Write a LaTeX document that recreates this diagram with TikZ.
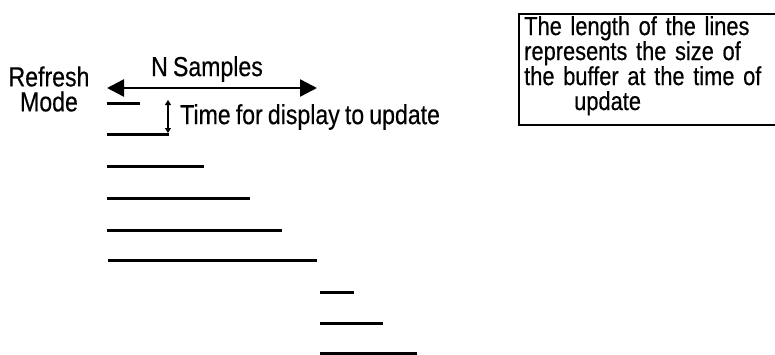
\documentclass[tikz,border=0pt]{standalone}
\usepackage{fontspec}
\setmainfont[FakeStretch=0.84,WordSpace=0.8,FakeBold=0.4]{Liberation Sans}
\usetikzlibrary{arrows.meta}
\begin{document}
\begin{tikzpicture}[x=1pt,y=-1pt,
  bar/.style={line width=3pt},
  lbl/.style={font=\fontsize{27.5}{25}\selectfont, inner sep=0pt},
  note/.style={font=\fontsize{26}{25}\selectfont, align=left, anchor=north west, inner xsep=5pt, inner ysep=2pt, text width=250pt},
  notebox/.style={draw, line width=1.5pt}]
\useasboundingbox (0,0) rectangle (775,354);
% labels
\node[lbl, align=center] (mode) at (49,89) {Refresh\\Mode};
\node[lbl] (ns) at (207,69) {N Samples};
% N samples arrow
\coordinate (a1) at (107,88);
\coordinate (a2) at (317,88);
\draw[line width=2.5pt, {Triangle[length=17pt,width=17pt]}-{Triangle[length=17pt,width=17pt]}] (a1) -- (a2);
% time arrow
\coordinate (t1) at (168,100);
\coordinate (t2) at (168,133);
\draw[line width=1.3pt, {Triangle[length=5pt,width=6pt]}-{Triangle[length=5pt,width=6pt]}] (t1) -- (t2);
\node[lbl, anchor=west] (tl) at (180,117) {Time for display to update};
% bars
\foreach \n/\xa/\xb/\y in {1/107/140/103, 2/107/169/134, 3/107/204/166, 4/107/250/198, 5/107/282/230, 6/108/317/260, 7/320/354/292, 8/320/383/323, 9/320/417/353}{
  \draw[bar] (\xa,\y) coordinate (b\n s) -- (\xb,\y) coordinate (b\n e);
}
% note box
\node[note] (box) at (519,14) {The length of the lines\\represents the size of\\the buffer at the time of\\\hspace*{50pt}update};
\draw[notebox] (box.north west) rectangle ++(262,111);
\end{tikzpicture}
\end{document}
